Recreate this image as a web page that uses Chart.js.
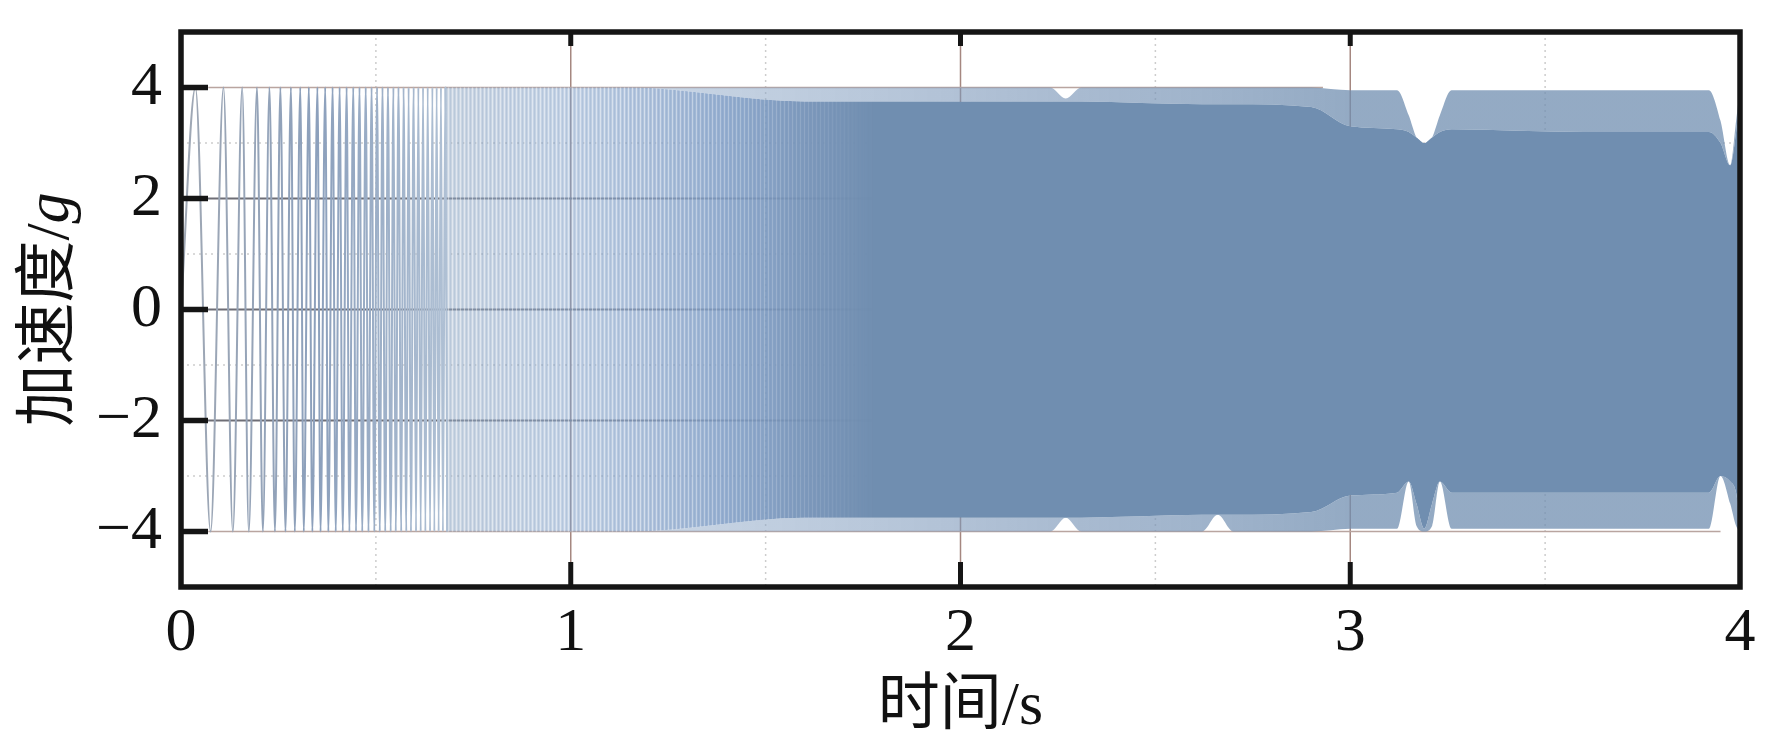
<!DOCTYPE html>
<html>
<head>
<meta charset="utf-8">
<script src="https://cdn.jsdelivr.net/npm/chart.js@4.4.1/dist/chart.umd.min.js"></script>
<style>
  html, body { margin: 0; padding: 0; background: #fff; }
</style>
</head>
<body>
<canvas id="sweepChart" width="1777" height="741"></canvas>
<script>
'use strict';

// axis ticks
const xTicks = [0, 1, 2, 3, 4];
const yTicks = [-4, -2, 0, 2, 4];
const xMinor = [0.5, 1.5, 2.5, 3.5];
const yMinor = [-3, -1, 1, 3];
const xTitle = '时间/s';
const yTitleMain = '加速度/';
const yTitleUnit = 'g';

// sweep start: read crest / trough times (s) where single cycles are still visible
const startT = 0;
const startV = 0;
const peakTimes = [0.037, 0.109, 0.157, 0.195, 0.227, 0.255, 0.282, 0.306, 0.328, 0.350,
  0.370, 0.389, 0.407, 0.425, 0.442, 0.458, 0.474, 0.489, 0.503, 0.517, 0.531, 0.545,
  0.558, 0.571, 0.584, 0.597, 0.609, 0.621, 0.633, 0.645, 0.656, 0.667, 0.678];
const troughTimes = [0.076, 0.133, 0.174, 0.210, 0.241, 0.268, 0.292, 0.315, 0.337, 0.358,
  0.378, 0.397, 0.415, 0.432, 0.449, 0.465, 0.481, 0.496, 0.510, 0.524, 0.538, 0.551,
  0.565, 0.578, 0.590, 0.603, 0.615, 0.627, 0.639, 0.650, 0.661, 0.672, 0.683];
const peakValue = 4;
const troughValue = -4;

// dense part: envelope of the sweep
const bandT    = [0.68, 1.15, 1.6, 2.0, 2.23, 2.27, 2.31, 2.62, 2.66, 2.70, 2.9, 3.0, 3.12, 3.15, 3.17, 3.19, 3.21, 3.23, 3.26, 3.6, 3.92, 3.95, 3.975, 3.99, 4.0];
const outerTop = [4, 4, 4, 4, 4, 3.8, 4, 4, 4, 4, 4, 3.95, 3.95, 3.5, 3.1, 3.0, 3.1, 3.5, 3.95, 3.95, 3.95, 3.4, 2.6, 3.4, 4];
const coreTop  = [4, 4, 3.75, 3.75, 3.75, 3.75, 3.75, 3.7, 3.7, 3.7, 3.65, 3.3, 3.25, 3.2, 3.1, 3.0, 3.1, 3.2, 3.25, 3.2, 3.2, 3.0, 2.6, 3.2, 3.85];
const coreBot  = [-4, -4, -3.75, -3.75, -3.75, -3.75, -3.75, -3.7, -3.7, -3.7, -3.65, -3.35, -3.3, -3.1, -3.5, -3.95, -3.5, -3.1, -3.3, -3.3, -3.3, -3.0, -3.1, -3.3, -3.85];
const outerBot = [-4, -4, -4, -4, -4, -3.75, -4, -4, -3.7, -4, -4, -3.95, -3.95, -3.1, -3.9, -4, -3.9, -3.1, -3.95, -3.95, -3.95, -3.0, -3.5, -3.9, -4];

// flat crest lines at +-4
const topEdgeT = [0.07, 2.93];
const bottomEdgeT = [0.07, 3.95];

const serif = '"Liberation Serif", "Times New Roman", "Noto Sans CJK SC", serif';

function toPoints(xs, ys) {
  return xs.map((x, i) => ({ x: x, y: ys[i] }));
}

function buildSweepStart() {
  const pts = [{ x: startT, y: startV }];
  for (let t of peakTimes) pts.push({ x: t, y: peakValue });
  for (let t of troughTimes) pts.push({ x: t, y: troughValue });
  pts.sort((a, b) => a.x - b.x);
  return pts;
}

function xGradient(gctx, chart, stops) {
  const { scales } = chart;
  const x0 = scales.x.getPixelForValue(0);
  const x1 = scales.x.getPixelForValue(4);
  const g = gctx.createLinearGradient(x0, 0, x1, 0);
  for (let s of stops) g.addColorStop(s[0] / 4, s[1]);
  return g;
}

function gradientFor(stops) {
  return (c) => {
    const chart = c.chart;
    if (!chart.chartArea) return 'rgba(112,142,176,1)';
    return xGradient(chart.ctx, chart, stops);
  };
}

const fringeStops = [[0, 'rgba(150,175,205,0.5)'], [1.15, 'rgba(150,175,205,0.5)'], [2.0, 'rgba(125,152,186,0.6)'], [3.0, 'rgba(112,142,176,0.75)'], [4, 'rgba(112,142,176,0.75)']];
const coreStops = [[0, 'rgba(150,172,198,0.5)'], [0.68, 'rgba(150,172,198,0.5)'], [1.0, 'rgba(145,172,208,0.55)'], [1.2, 'rgba(138,166,204,0.68)'], [1.4, 'rgba(128,158,198,0.85)'], [1.6, 'rgba(118,147,184,0.95)'], [1.78, 'rgba(112,142,176,1)'], [4, 'rgba(112,142,176,1)']];
const lineStops = [[0, 'rgba(160,168,180,1)'], [0.35, 'rgba(140,160,188,1)'], [0.68, 'rgba(175,192,212,1)'], [4, 'rgba(175,192,212,1)']];

// core fill: gradient plus fine vertical streaks where the sweep is still resolved
let coreCache = null;
function coreFill(c) {
  const chart = c.chart;
  const { chartArea, scales } = chart;
  if (!chartArea) return 'rgba(112,142,176,1)';
  const key = chartArea.left + ':' + chartArea.right + ':' + chartArea.top;
  if (coreCache && coreCache.key === key) return coreCache.pattern;
  const off = document.createElement('canvas');
  off.width = chart.width;
  off.height = 1;
  const oc = off.getContext('2d');
  oc.fillStyle = xGradient(oc, chart, coreStops);
  oc.fillRect(0, 0, off.width, 1);
  const pxStart = Math.floor(scales.x.getPixelForValue(0.68));
  const pxEnd = Math.ceil(scales.x.getPixelForValue(1.75));
  for (let px = pxStart; px < pxEnd; px++) {
    const t = scales.x.getValueForPixel(px);
    const k = t < 1.2 ? 1 : Math.max(0, (1.75 - t) / 0.55);
    if (px % 4 === 0) {
      oc.fillStyle = 'rgba(255,255,255,' + (0.45 * k) + ')';
      oc.fillRect(px, 0, 1, 1);
    } else if (px % 4 === 2) {
      oc.fillStyle = 'rgba(95,125,170,' + (0.15 * k) + ')';
      oc.fillRect(px, 0, 1, 1);
    }
  }
  const pattern = chart.ctx.createPattern(off, 'repeat-y');
  coreCache = { key: key, pattern: pattern };
  return pattern;
}

// grid underneath the data, frame and ticks on top
const gridPlugin = {
  id: 'gridPlugin',
  beforeDatasetsDraw(chart) {
    const { ctx, chartArea, scales } = chart;
    ctx.save();
    ctx.lineWidth = 1.5;
    ctx.strokeStyle = 'rgba(205,205,205,1)';
    ctx.setLineDash([2, 4]);
    for (let v of xMinor) {
      const px = scales.x.getPixelForValue(v);
      ctx.beginPath(); ctx.moveTo(px, chartArea.top); ctx.lineTo(px, chartArea.bottom); ctx.stroke();
    }
    for (let v of yMinor) {
      const py = scales.y.getPixelForValue(v);
      ctx.beginPath(); ctx.moveTo(chartArea.left, py); ctx.lineTo(chartArea.right, py); ctx.stroke();
    }
    ctx.setLineDash([]);
    ctx.strokeStyle = 'rgba(165,135,128,1)';
    for (let v of xTicks.slice(1, -1)) {
      const px = scales.x.getPixelForValue(v);
      ctx.beginPath(); ctx.moveTo(px, chartArea.top); ctx.lineTo(px, chartArea.bottom); ctx.stroke();
    }
    ctx.lineWidth = 2;
    ctx.strokeStyle = 'rgba(110,110,118,1)';
    for (let v of yTicks.slice(1, -1)) {
      const py = scales.y.getPixelForValue(v);
      ctx.beginPath(); ctx.moveTo(chartArea.left, py); ctx.lineTo(chartArea.right, py); ctx.stroke();
    }
    ctx.restore();
  },
  afterDatasetsDraw(chart) {
    const { ctx, chartArea, scales } = chart;
    ctx.save();
    ctx.strokeStyle = '#151515';
    ctx.lineWidth = 5.5;
    for (let v of yTicks) {
      const py = scales.y.getPixelForValue(v);
      ctx.beginPath(); ctx.moveTo(chartArea.left, py); ctx.lineTo(chartArea.left + 27, py); ctx.stroke();
    }
    ctx.lineWidth = 5;
    for (let v of xTicks.slice(1, -1)) {
      const px = scales.x.getPixelForValue(v);
      ctx.beginPath(); ctx.moveTo(px, chartArea.bottom); ctx.lineTo(px, chartArea.bottom - 25); ctx.stroke();
      ctx.beginPath(); ctx.moveTo(px, chartArea.top); ctx.lineTo(px, chartArea.top + 14); ctx.stroke();
    }
    ctx.lineWidth = 5.5;
    ctx.strokeRect(chartArea.left, chartArea.top, chartArea.right - chartArea.left, chartArea.bottom - chartArea.top);
    ctx.restore();
  },
  afterDraw(chart) {
    const { ctx, chartArea } = chart;
    ctx.save();
    ctx.fillStyle = '#111';
    ctx.textBaseline = 'middle';
    ctx.textAlign = 'center';
    ctx.font = '62px ' + serif;
    ctx.fillText(xTitle, (chartArea.left + chartArea.right) / 2, 708);

    ctx.translate(52, (chartArea.top + chartArea.bottom) / 2);
    ctx.rotate(-Math.PI / 2);
    const normal = '62px ' + serif;
    const italic = 'italic 62px ' + serif;
    ctx.font = normal;
    const w1 = ctx.measureText(yTitleMain).width;
    ctx.font = italic;
    const w2 = ctx.measureText(yTitleUnit).width;
    const x = -(w1 + w2) / 2;
    ctx.textAlign = 'left';
    ctx.font = normal;
    ctx.fillText(yTitleMain, x, 0);
    ctx.font = italic;
    ctx.fillText(yTitleUnit, x + w1, 0);
    ctx.restore();
  }
};

const ctx = document.getElementById('sweepChart').getContext('2d');

const bandBase = {
  borderWidth: 0,
  pointRadius: 0,
  cubicInterpolationMode: 'monotone',
  order: 2
};

const sweepChart = new Chart(ctx, {
  type: 'line',
  data: {
    datasets: [
      {
        label: 'sweep start',
        data: buildSweepStart(),
        borderColor: gradientFor(lineStops),
        borderWidth: 2,
        cubicInterpolationMode: 'monotone',
        pointRadius: 0,
        fill: false,
        order: 0
      },
      Object.assign({}, bandBase, {
        label: 'outer top',
        data: toPoints(bandT, outerTop),
        fill: '+1',
        backgroundColor: gradientFor(fringeStops)
      }),
      Object.assign({}, bandBase, {
        label: 'core top',
        data: toPoints(bandT, coreTop),
        fill: '+1',
        backgroundColor: coreFill
      }),
      Object.assign({}, bandBase, {
        label: 'core bottom',
        data: toPoints(bandT, coreBot),
        fill: '+1',
        backgroundColor: gradientFor(fringeStops)
      }),
      Object.assign({}, bandBase, {
        label: 'outer bottom',
        data: toPoints(bandT, outerBot),
        fill: false
      }),
      {
        label: 'top edge',
        data: topEdgeT.map(t => ({ x: t, y: peakValue })),
        borderColor: 'rgba(185,165,160,1)',
        borderWidth: 1.5,
        pointRadius: 0,
        fill: false,
        order: 3
      },
      {
        label: 'bottom edge',
        data: bottomEdgeT.map(t => ({ x: t, y: troughValue })),
        borderColor: 'rgba(185,165,160,1)',
        borderWidth: 1.5,
        pointRadius: 0,
        fill: false,
        order: 3
      }
    ]
  },
  options: {
    responsive: false,
    animation: false,
    events: [],
    layout: { padding: { left: 0, right: 37, top: 32, bottom: 0 } },
    plugins: {
      legend: { display: false },
      tooltip: { enabled: false }
    },
    scales: {
      x: {
        type: 'linear',
        min: 0,
        max: 4,
        grid: { display: false, drawTicks: false },
        border: { display: false },
        ticks: {
          stepSize: 1,
          padding: 10,
          color: '#111',
          font: { family: serif, size: 62 }
        },
        afterFit(scale) {
          scale.height = 154;
          scale.paddingLeft = 0;
          scale.paddingRight = 0;
        }
      },
      y: {
        type: 'linear',
        min: -5,
        max: 5,
        grid: { display: false, drawTicks: false },
        border: { display: false },
        afterBuildTicks(scale) { scale.ticks = yTicks.map(v => ({ value: v })); },
        ticks: {
          padding: 19,
          color: '#111',
          font: { family: serif, size: 62 },
          callback: (v) => String(v).replace('-', '\u2212')
        },
        afterFit(scale) {
          scale.width = 181;
          scale.paddingTop = 0;
          scale.paddingBottom = 0;
        }
      }
    }
  },
  plugins: [gridPlugin]
});
</script>
</body>
</html>
